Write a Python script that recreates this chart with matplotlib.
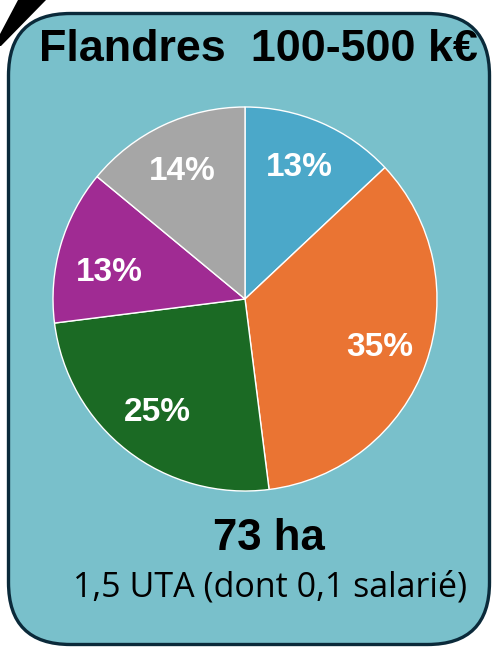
import matplotlib
matplotlib.use("Agg")
import matplotlib.pyplot as plt
from matplotlib.patches import FancyBboxPatch, Polygon

# Data
categories = ["Cat1", "Cat2", "Cat3", "Cat4", "Cat5"]
values = [13, 35, 25, 13, 14]
colors = ["#4BA8C9", "#EA7433", "#1B6A24", "#A02B93", "#A6A6A6"]
title = "Flandres  100-500 k€"
surface = "73 ha"
uta = "1,5 UTA (dont 0,1 salarié)"

W, H = 500, 648
fig = plt.figure(figsize=(W / 100, H / 100), dpi=100)
fig.patch.set_facecolor("white")

# background axes in pixel coordinates
bg = fig.add_axes([0, 0, 1, 1], zorder=0)
bg.set_xlim(0, W)
bg.set_ylim(H, 0)
bg.axis("off")
box = FancyBboxPatch((8.5 + 62, 13.5 + 62), 481 - 124, 631 - 124,
                     boxstyle="round,pad=62",
                     facecolor="#79C0CB", edgecolor="#0B2A3A", linewidth=2.4)
bg.add_patch(box)

# pie
cx, cy, R = 245, 299, 192
ax = fig.add_axes([(cx - R) / W, 1 - (cy + R) / H, 2 * R / W, 2 * R / H], zorder=1)
wedges, texts, autotexts = ax.pie(
    values, colors=colors, startangle=90, counterclock=False,
    autopct=lambda p: f"{p:.0f}%", pctdistance=0.745,
    wedgeprops=dict(edgecolor="white", linewidth=1.0),
    textprops=dict(color="white", fontsize=24, fontweight="bold",
                   family="Liberation Sans"))
# nudge label positions slightly as in the reference
x, y = autotexts[3].get_position()
autotexts[3].set_position((x + 0.01, y - 0.07))
x, y = autotexts[4].get_position()
autotexts[4].set_position((x - 0.01, y - 0.01))
x, y = autotexts[0].get_position()
autotexts[0].set_position((x - 0.015, y))
ax.set_xlim(-1, 1)
ax.set_ylim(-1, 1)
ax.set_aspect("equal")
ax.axis("off")

# overlay
top = fig.add_axes([0, 0, 1, 1], zorder=2)
top.set_xlim(0, W)
top.set_ylim(H, 0)
top.axis("off")
top.add_patch(Polygon([(18, 0), (46, 0), (1, 46), (0, 46), (0, 34)],
                      closed=True, facecolor="black", edgecolor="none"))
top.text(258, 61, title, ha="center", va="baseline", fontsize=32.3,
         fontweight="bold", family="Liberation Sans", color="black")
top.text(269, 550, surface, ha="center", va="baseline", fontsize=31.5,
         fontweight="bold", family="Liberation Sans", color="black")
top.text(270, 597, uta, ha="center", va="baseline", fontsize=24.5,
         family="Open Sans", color="black")

fig.savefig("out.png", dpi=100)
